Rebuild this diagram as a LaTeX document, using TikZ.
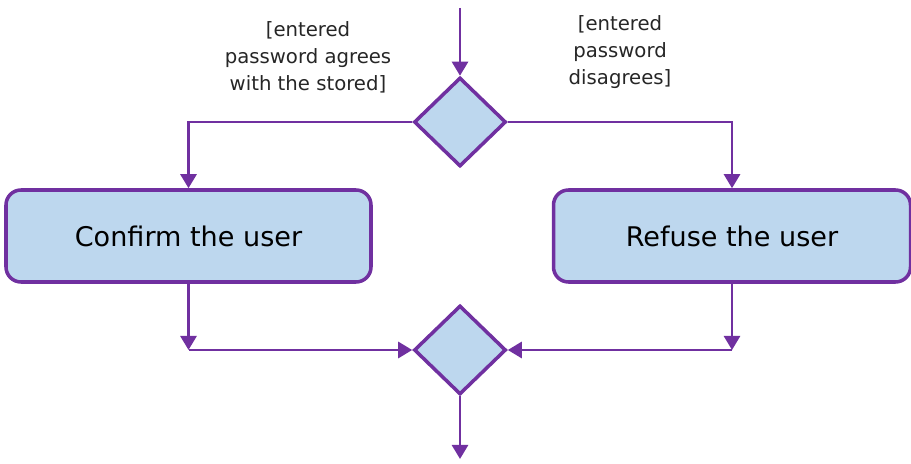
\documentclass[tikz,border=0pt]{standalone}
\usepackage{fontspec}
\setmainfont{DejaVu Sans}
\usetikzlibrary{shapes.geometric,arrows.meta,positioning}
\definecolor{umlline}{RGB}{112,48,160}
\definecolor{umlfill}{RGB}{189,215,238}

\begin{document}
\begin{tikzpicture}[
    action/.style={rectangle, draw=umlline, fill=umlfill, line width=2pt, rounded corners=0.3cm, minimum height=1.84cm, font=\fontsize{15.4}{18}\selectfont},
    decision/.style={diamond, draw=umlline, fill=umlfill, line width=2pt, inner sep=0pt, minimum width=1.84cm, minimum height=1.78cm},
    guard/.style={align=center, text=black!85, font=\fontsize{11.2}{15.3}\selectfont},
    flow/.style={draw=umlline, line width=1.5pt, -{Triangle[width=0.32cm,length=0.28cm]}}
]
    \useasboundingbox (0,0) rectangle (18.22,-9.28);
    \coordinate (start) at (9.2,-0.16);
    \node[decision] (chk) at (9.2,-2.44) {};
    \node[decision] (merge) at (9.2,-7.0) {};
    \node[action, minimum width=7.3cm] (conf) at (3.77,-4.72) {Confirm the user};
    \node[action, minimum width=7.14cm] (refuse) at (14.64,-4.72) {Refuse the user};
    \node[guard] (okguard) at (6.16,-1.14) {[entered\\password agrees\\with the stored]};
    \node[guard] (badguard) at (12.4,-1.04) {[entered\\password\\disagrees]};
    \coordinate (lc) at (conf.south |- merge.west);
    \coordinate (rc) at (refuse.south |- merge.east);
    \coordinate (finish) at (9.2,-9.18);

    \draw[flow] (start) -- (chk.north);
    \draw[flow] (chk.west) -| (conf.north);
    \draw[flow] (chk.east) -| (refuse.north);
    \draw[flow] (conf.south) -- (lc);
    \draw[flow] (lc) -- (merge.west);
    \draw[flow] (refuse.south) -- (rc);
    \draw[flow] (rc) -- (merge.east);
    \draw[flow] (merge.south) -- (finish);
\end{tikzpicture}
\end{document}
